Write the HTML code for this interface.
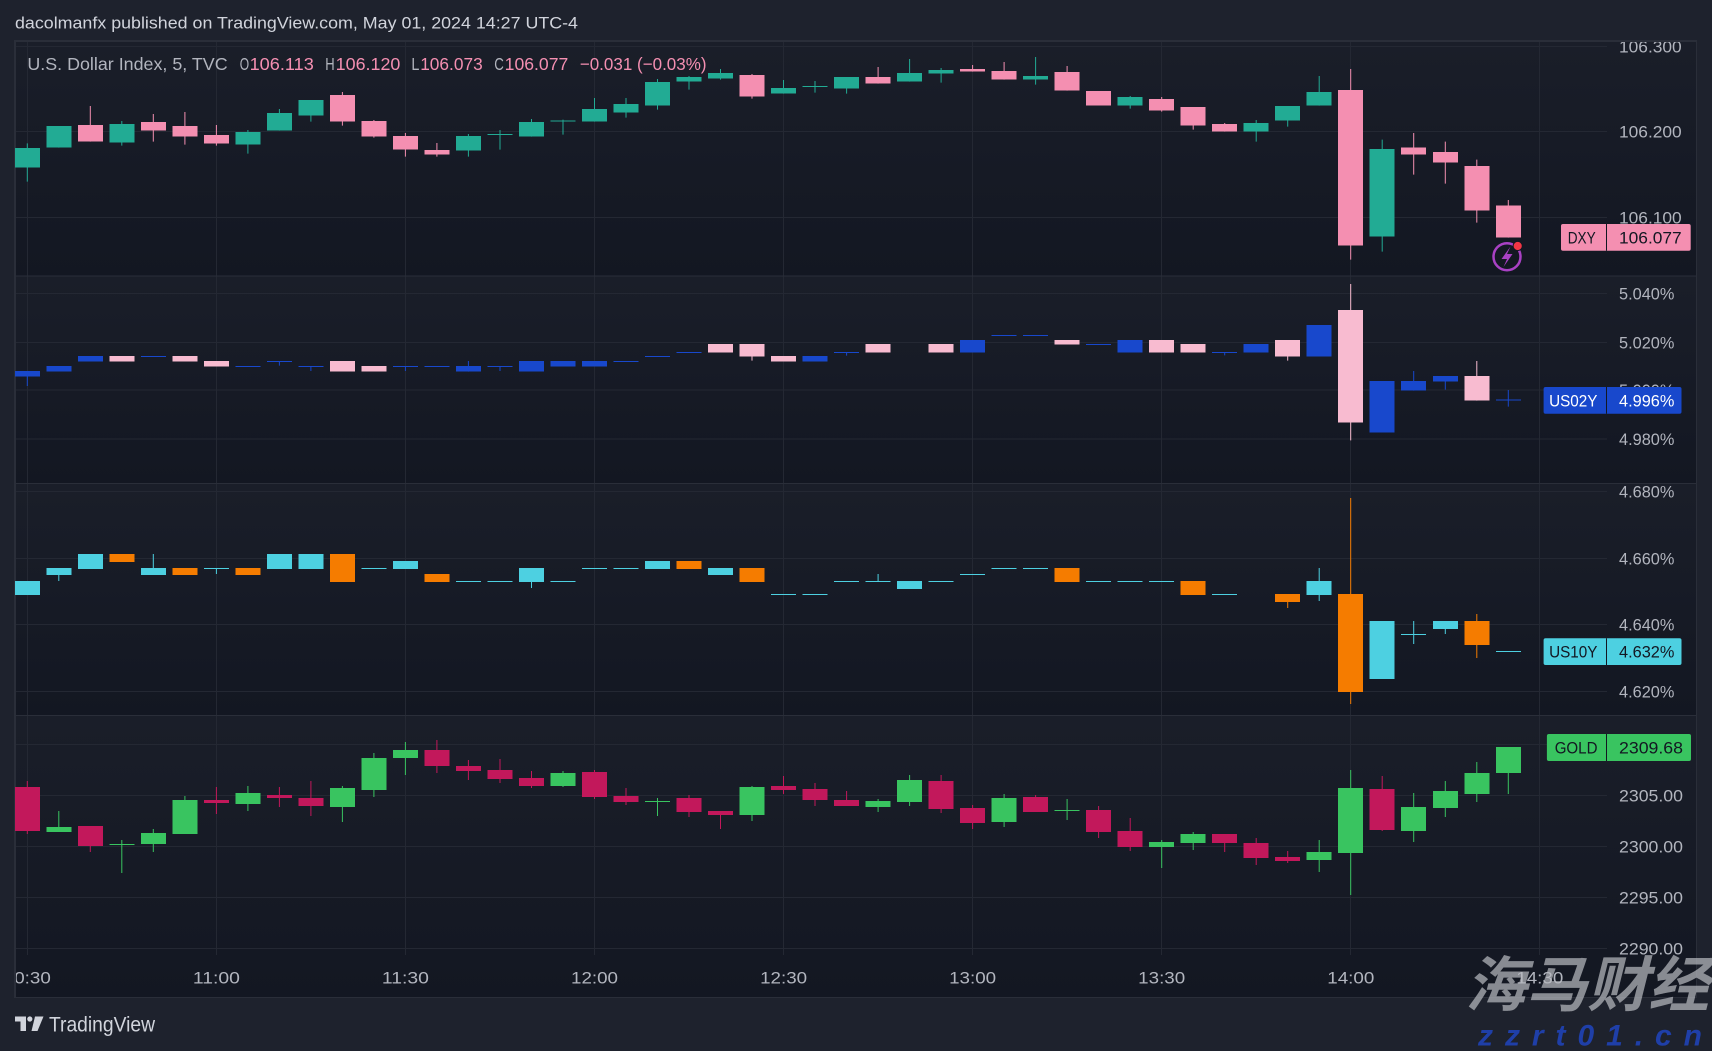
<!DOCTYPE html>
<html><head><meta charset="utf-8"><style>
html,body{margin:0;padding:0;background:#1e222d;}
svg{display:block;}
text{font-family:"Liberation Sans","Noto Sans CJK SC",sans-serif;}
</style></head><body>
<svg width="1712" height="1051" viewBox="0 0 1712 1051" xmlns="http://www.w3.org/2000/svg">
<defs>
<linearGradient id="pg" x1="0" y1="0" x2="0" y2="1"><stop offset="0" stop-color="#1a1e29"/><stop offset="1" stop-color="#131722"/></linearGradient>
<clipPath id="axc"><rect x="1607" y="42" width="90" height="913"/></clipPath>
<clipPath id="tc"><rect x="16" y="955" width="1680" height="42"/></clipPath>
</defs>
<rect width="1712" height="1051" fill="#1e222d"/>
<text x="15" y="28.5" font-size="17" fill="#d1d4dc" textLength="563" lengthAdjust="spacingAndGlyphs">dacolmanfx published on TradingView.com, May 01, 2024 14:27 UTC-4</text>
<rect x="14" y="40" width="1683" height="958" fill="#2a2e39"/>
<rect x="16" y="42" width="1680" height="233.5" fill="url(#pg)"/>
<rect x="16" y="276.5" width="1680" height="206.5" fill="url(#pg)"/>
<rect x="16" y="484" width="1680" height="231" fill="url(#pg)"/>
<rect x="16" y="716" width="1680" height="281" fill="url(#pg)"/>
<g stroke="#242833" stroke-width="1" shape-rendering="crispEdges" fill="none">
<path d="M27.5 42V955M216.5 42V955M405.5 42V955M594.5 42V955M783.5 42V955M972.5 42V955M1161.5 42V955M1350.5 42V955M1539.5 42V955"/>
<path d="M16 46.7H1607M16 131.5H1607M16 217.3H1607M16 293.3H1607M16 342.3H1607M16 390H1607M16 439H1607M16 491.3H1607M16 558.3H1607M16 624.3H1607M16 691.3H1607M16 744.3H1607M16 795.3H1607M16 846.3H1607M16 897.3H1607M16 948.3H1607"/>
</g>
<g shape-rendering="crispEdges">
<rect x="16" y="275.5" width="1680" height="1" fill="#2a2e39"/>
<rect x="16" y="483" width="1680" height="1" fill="#2a2e39"/>
<rect x="16" y="715" width="1680" height="1" fill="#2a2e39"/>
</g>

<!-- legend -->
<g font-size="17.5">
<text x="27.4" y="70" fill="#b2b5be" textLength="200.2" lengthAdjust="spacingAndGlyphs">U.S. Dollar Index, 5, TVC</text>
<text x="239.7" y="70" fill="#b2b5be" textLength="9.4" lengthAdjust="spacingAndGlyphs">O</text><text x="249.6" y="70" fill="#f48fb1" textLength="64.2" lengthAdjust="spacingAndGlyphs">106.113</text>
<text x="325.3" y="70" fill="#b2b5be" textLength="9.4" lengthAdjust="spacingAndGlyphs">H</text><text x="335.7" y="70" fill="#f48fb1" textLength="64.7" lengthAdjust="spacingAndGlyphs">106.120</text>
<text x="411.4" y="70" fill="#b2b5be" textLength="8" lengthAdjust="spacingAndGlyphs">L</text><text x="420.2" y="70" fill="#f48fb1" textLength="62.5" lengthAdjust="spacingAndGlyphs">106.073</text>
<text x="494.2" y="70" fill="#b2b5be" textLength="9.6" lengthAdjust="spacingAndGlyphs">C</text><text x="504.7" y="70" fill="#f48fb1" textLength="63.6" lengthAdjust="spacingAndGlyphs">106.077</text>
<text x="579.8" y="70" fill="#f48fb1" textLength="126.7" lengthAdjust="spacingAndGlyphs">−0.031 (−0.03%)</text>
</g>

<!-- DXY + US02Y candles -->
<g transform="translate(0,40) scale(1,0.333333)" shape-rendering="crispEdges">
<path fill="none" stroke="#22ab94" stroke-width="1" d="M27.3 310V425M58.8 258V323M121.8 243V317M247.9 270V341M279.4 207V272M310.9 180V245M468.4 282V350M500 270V329M531.5 237V290M563 239V284M594.5 174V245M626 174V233M657.5 117V209M689 108V149M720.5 87V119M783.5 120V161M815 123V158M846.6 111V161M909.6 57V125M941.1 84V128M1035.6 51V134M1130.2 168V206M1256.2 240V305M1287.7 198V260M1319.2 108V197M1382.2 299V635"/>
<g fill="#22ab94">
<rect x="14.8" y="324" width="25" height="59"/><rect x="46.3" y="258" width="25" height="65"/><rect x="109.3" y="252" width="25" height="56"/><rect x="235.4" y="276" width="25" height="38"/><rect x="266.9" y="219" width="25" height="53"/><rect x="298.4" y="180" width="25" height="47"/><rect x="455.9" y="288" width="25" height="44"/><rect x="487.5" y="282" width="25" height="3"/><rect x="519" y="246" width="25" height="44"/><rect x="550.5" y="242" width="25" height="3"/><rect x="582" y="207" width="25" height="38"/><rect x="613.5" y="192" width="25" height="26"/><rect x="645" y="126" width="25" height="71"/><rect x="676.5" y="111" width="25" height="14"/><rect x="708" y="99" width="25" height="17"/><rect x="771" y="144" width="25" height="17"/><rect x="802.6" y="138" width="25" height="3"/><rect x="834.1" y="111" width="25" height="35"/><rect x="897.1" y="99" width="25" height="26"/><rect x="928.6" y="90" width="25" height="11"/><rect x="1023.1" y="108" width="25" height="11"/><rect x="1117.7" y="171" width="25" height="26"/><rect x="1243.7" y="249" width="25" height="26"/><rect x="1275.2" y="198" width="25" height="44"/><rect x="1306.7" y="156" width="25" height="41"/><rect x="1369.7" y="327" width="25" height="263"/>
</g>
<path fill="none" stroke="#f48fb1" stroke-width="1" d="M90.3 198V305M153.3 222V305M184.9 216V314M216.4 255V317M342.4 156V257M373.9 240V293M405.4 279V350M436.9 309V350M752 102V176M878.1 81V131M972.6 75V95M1004.1 66V119M1067.1 78V152M1161.7 171V215M1193.2 201V269M1224.7 249V275M1350.7 87V659M1413.7 279V404M1445.3 305V431M1476.8 359V548M1508.3 480V593"/>
<g fill="#f48fb1">
<rect x="77.8" y="255" width="25" height="50"/><rect x="140.8" y="246" width="25" height="26"/><rect x="172.4" y="258" width="25" height="32"/><rect x="203.9" y="285" width="25" height="26"/><rect x="329.9" y="165" width="25" height="80"/><rect x="361.4" y="243" width="25" height="47"/><rect x="392.9" y="288" width="25" height="41"/><rect x="424.4" y="330" width="25" height="14"/><rect x="739.5" y="105" width="25" height="65"/><rect x="865.6" y="111" width="25" height="20"/><rect x="960.1" y="87" width="25" height="8"/><rect x="991.6" y="93" width="25" height="26"/><rect x="1054.6" y="96" width="25" height="56"/><rect x="1086.1" y="153" width="25" height="44"/><rect x="1149.2" y="177" width="25" height="35"/><rect x="1180.7" y="201" width="25" height="56"/><rect x="1212.2" y="252" width="25" height="23"/><rect x="1338.2" y="150" width="25" height="467"/><rect x="1401.2" y="323" width="25" height="21"/><rect x="1432.8" y="336" width="25" height="32"/><rect x="1464.3" y="378" width="25" height="134"/><rect x="1495.8" y="497" width="25" height="96"/>
</g>
<path fill="none" stroke="#1848cc" stroke-width="1" d="M27.3 993V1038M279.4 963V977M310.9 978V993M405.4 978V993M468.4 963V995M500 978V993M846.6 936V947M1224.7 936V946M1413.7 993V1052M1445.3 1008V1049M1508.3 1050V1100"/>
<g fill="#1848cc">
<rect x="14.8" y="993" width="25" height="17"/><rect x="46.3" y="978" width="25" height="17"/><rect x="77.8" y="948" width="25" height="17"/><rect x="140.8" y="948" width="25" height="3"/><rect x="235.4" y="978" width="25" height="3"/><rect x="266.9" y="963" width="25" height="3"/><rect x="298.4" y="978" width="25" height="3"/><rect x="392.9" y="978" width="25" height="3"/><rect x="424.4" y="978" width="25" height="3"/><rect x="455.9" y="978" width="25" height="17"/><rect x="487.5" y="978" width="25" height="3"/><rect x="519" y="963" width="25" height="32"/><rect x="550.5" y="963" width="25" height="17"/><rect x="582" y="963" width="25" height="17"/><rect x="613.5" y="963" width="25" height="3"/><rect x="645" y="948" width="25" height="3"/><rect x="676.5" y="936" width="25" height="3"/><rect x="802.6" y="948" width="25" height="17"/><rect x="834.1" y="936" width="25" height="3"/><rect x="960.1" y="900" width="25" height="38"/><rect x="991.6" y="885" width="25" height="3"/><rect x="1023.1" y="885" width="25" height="3"/><rect x="1086.1" y="912" width="25" height="3"/><rect x="1117.7" y="900" width="25" height="38"/><rect x="1212.2" y="936" width="25" height="3"/><rect x="1243.7" y="912" width="25" height="26"/><rect x="1306.7" y="855" width="25" height="95"/><rect x="1369.7" y="1023" width="25" height="155"/><rect x="1401.2" y="1023" width="25" height="29"/><rect x="1432.8" y="1008" width="25" height="17"/><rect x="1495.8" y="1079" width="25" height="3"/>
</g>
<path fill="none" stroke="#f8bbd0" stroke-width="1" d="M752 912V962M1287.7 900V962M1350.7 732V1201M1476.8 963V1082"/>
<g fill="#f8bbd0">
<rect x="109.3" y="948" width="25" height="17"/><rect x="172.4" y="948" width="25" height="17"/><rect x="203.9" y="963" width="25" height="17"/><rect x="329.9" y="963" width="25" height="32"/><rect x="361.4" y="978" width="25" height="17"/><rect x="708" y="912" width="25" height="26"/><rect x="739.5" y="912" width="25" height="38"/><rect x="771" y="948" width="25" height="17"/><rect x="865.6" y="912" width="25" height="26"/><rect x="928.6" y="912" width="25" height="26"/><rect x="1054.6" y="900" width="25" height="14"/><rect x="1149.2" y="900" width="25" height="38"/><rect x="1180.7" y="912" width="25" height="26"/><rect x="1275.2" y="900" width="25" height="50"/><rect x="1338.2" y="810" width="25" height="338"/><rect x="1464.3" y="1008" width="25" height="74"/>
</g>
</g>

<!-- US10Y + GOLD candles -->
<g transform="translate(0,480) scale(1,0.333333)" shape-rendering="crispEdges">
<path fill="none" stroke="#4dd0e1" stroke-width="1" d="M58.8 264V303M153.3 222V285M216.4 264V282M531.5 264V324M878.1 282V306M1319.2 264V363M1413.7 423V492M1445.3 423V462"/>
<g fill="#4dd0e1">
<rect x="14.8" y="303" width="25" height="42"/><rect x="46.3" y="264" width="25" height="21"/><rect x="77.8" y="222" width="25" height="45"/><rect x="140.8" y="264" width="25" height="21"/><rect x="203.9" y="264" width="25" height="3"/><rect x="266.9" y="222" width="25" height="45"/><rect x="298.4" y="222" width="25" height="45"/><rect x="361.4" y="264" width="25" height="3"/><rect x="392.9" y="243" width="25" height="24"/><rect x="455.9" y="303" width="25" height="3"/><rect x="487.5" y="303" width="25" height="3"/><rect x="519" y="264" width="25" height="42"/><rect x="550.5" y="303" width="25" height="3"/><rect x="582" y="264" width="25" height="3"/><rect x="613.5" y="264" width="25" height="3"/><rect x="645" y="243" width="25" height="24"/><rect x="708" y="264" width="25" height="21"/><rect x="771" y="342" width="25" height="3"/><rect x="802.6" y="342" width="25" height="3"/><rect x="834.1" y="303" width="25" height="3"/><rect x="865.6" y="303" width="25" height="3"/><rect x="897.1" y="303" width="25" height="24"/><rect x="928.6" y="303" width="25" height="3"/><rect x="960.1" y="282" width="25" height="3"/><rect x="991.6" y="264" width="25" height="3"/><rect x="1023.1" y="264" width="25" height="3"/><rect x="1086.1" y="303" width="25" height="3"/><rect x="1117.7" y="303" width="25" height="3"/><rect x="1149.2" y="303" width="25" height="3"/><rect x="1212.2" y="342" width="25" height="3"/><rect x="1306.7" y="303" width="25" height="42"/><rect x="1369.7" y="423" width="25" height="174"/><rect x="1401.2" y="462" width="25" height="3"/><rect x="1432.8" y="423" width="25" height="24"/><rect x="1495.8" y="513" width="25" height="3"/>
</g>
<path fill="none" stroke="#f57c00" stroke-width="1" d="M1287.7 342V384M1350.7 54V672M1476.8 402V534"/>
<g fill="#f57c00">
<rect x="109.3" y="222" width="25" height="24"/><rect x="172.4" y="264" width="25" height="21"/><rect x="235.4" y="264" width="25" height="21"/><rect x="329.9" y="222" width="25" height="84"/><rect x="424.4" y="282" width="25" height="24"/><rect x="676.5" y="243" width="25" height="24"/><rect x="739.5" y="264" width="25" height="42"/><rect x="1054.6" y="264" width="25" height="42"/><rect x="1180.7" y="303" width="25" height="42"/><rect x="1275.2" y="342" width="25" height="24"/><rect x="1338.2" y="342" width="25" height="294"/><rect x="1464.3" y="423" width="25" height="72"/>
</g>
<path fill="none" stroke="#39c460" stroke-width="1" d="M58.8 993V1056M121.8 1080V1179M153.3 1047V1116M184.9 948V1062M247.9 918V993M342.4 918V1026M373.9 819V951M405.4 786V885M563 873V921M657.5 954V1008M752 918V1023M878.1 957V996M909.6 885V978M1004.1 942V1041M1067.1 957V1020M1161.7 1080V1164M1193.2 1056V1110M1319.2 1080V1176M1350.7 870V1245M1413.7 939V1086M1445.3 903V1011M1476.8 846V966M1508.3 801V942"/>
<g fill="#39c460">
<rect x="46.3" y="1041" width="25" height="15"/><rect x="109.3" y="1092" width="25" height="3"/><rect x="140.8" y="1059" width="25" height="33"/><rect x="172.4" y="960" width="25" height="102"/><rect x="235.4" y="939" width="25" height="33"/><rect x="329.9" y="924" width="25" height="57"/><rect x="361.4" y="834" width="25" height="96"/><rect x="392.9" y="810" width="25" height="24"/><rect x="550.5" y="879" width="25" height="39"/><rect x="645" y="963" width="25" height="3"/><rect x="739.5" y="921" width="25" height="84"/><rect x="865.6" y="963" width="25" height="18"/><rect x="897.1" y="900" width="25" height="66"/><rect x="991.6" y="954" width="25" height="72"/><rect x="1054.6" y="990" width="25" height="3"/><rect x="1149.2" y="1086" width="25" height="15"/><rect x="1180.7" y="1062" width="25" height="27"/><rect x="1306.7" y="1116" width="25" height="24"/><rect x="1338.2" y="924" width="25" height="195"/><rect x="1401.2" y="981" width="25" height="72"/><rect x="1432.8" y="933" width="25" height="51"/><rect x="1464.3" y="879" width="25" height="63"/><rect x="1495.8" y="801" width="25" height="78"/>
</g>
<path fill="none" stroke="#c2185b" stroke-width="1" d="M27.3 903V1062M90.3 1038V1116M216.4 921V1002M279.4 921V981M310.9 903V1008M436.9 780V879M468.4 840V900M500 837V909M531.5 873V924M594.5 870V957M626 924V975M689 945V1011M720.5 993V1047M783.5 888V942M815 909V978M846.6 933V978M941.1 885V999M972.6 975V1047M1035.6 945V996M1098.6 978V1074M1130.2 1014V1113M1224.7 1062V1116M1256.2 1074V1155M1287.7 1113V1149M1382.2 888V1053"/>
<g fill="#c2185b">
<rect x="14.8" y="921" width="25" height="132"/><rect x="77.8" y="1038" width="25" height="60"/><rect x="203.9" y="960" width="25" height="9"/><rect x="266.9" y="945" width="25" height="9"/><rect x="298.4" y="954" width="25" height="24"/><rect x="424.4" y="810" width="25" height="48"/><rect x="455.9" y="858" width="25" height="15"/><rect x="487.5" y="870" width="25" height="27"/><rect x="519" y="894" width="25" height="24"/><rect x="582" y="876" width="25" height="75"/><rect x="613.5" y="948" width="25" height="18"/><rect x="676.5" y="954" width="25" height="42"/><rect x="708" y="993" width="25" height="12"/><rect x="771" y="918" width="25" height="12"/><rect x="802.6" y="927" width="25" height="33"/><rect x="834.1" y="960" width="25" height="18"/><rect x="928.6" y="903" width="25" height="84"/><rect x="960.1" y="984" width="25" height="45"/><rect x="1023.1" y="951" width="25" height="45"/><rect x="1086.1" y="990" width="25" height="66"/><rect x="1117.7" y="1053" width="25" height="48"/><rect x="1212.2" y="1062" width="25" height="27"/><rect x="1243.7" y="1089" width="25" height="45"/><rect x="1275.2" y="1131" width="25" height="12"/><rect x="1369.7" y="927" width="25" height="123"/>
</g>
</g>

<!-- price axis labels -->
<g clip-path="url(#axc)" font-size="17" fill="#b2b5be">
<text x="1619" y="52.7" textLength="62.7" lengthAdjust="spacingAndGlyphs">106.300</text>
<text x="1619" y="137.5" textLength="62.7" lengthAdjust="spacingAndGlyphs">106.200</text>
<text x="1619" y="223.3" textLength="62.7" lengthAdjust="spacingAndGlyphs">106.100</text>
<text x="1619" y="299.3" textLength="55.4" lengthAdjust="spacingAndGlyphs">5.040%</text>
<text x="1619" y="348.3" textLength="55.4" lengthAdjust="spacingAndGlyphs">5.020%</text>
<text x="1619" y="396" textLength="55.4" lengthAdjust="spacingAndGlyphs">5.000%</text>
<text x="1619" y="445" textLength="55.4" lengthAdjust="spacingAndGlyphs">4.980%</text>
<text x="1619" y="497.3" textLength="55.4" lengthAdjust="spacingAndGlyphs">4.680%</text>
<text x="1619" y="564.3" textLength="55.4" lengthAdjust="spacingAndGlyphs">4.660%</text>
<text x="1619" y="630.3" textLength="55.4" lengthAdjust="spacingAndGlyphs">4.640%</text>
<text x="1619" y="697.3" textLength="55.4" lengthAdjust="spacingAndGlyphs">4.620%</text>
<text x="1619" y="750.3" textLength="64" lengthAdjust="spacingAndGlyphs">2310.00</text>
<text x="1619" y="801.3" textLength="64" lengthAdjust="spacingAndGlyphs">2305.00</text>
<text x="1619" y="852.3" textLength="64" lengthAdjust="spacingAndGlyphs">2300.00</text>
<text x="1619" y="903.3" textLength="64" lengthAdjust="spacingAndGlyphs">2295.00</text>
</g>
<text x="1619" y="954.3" font-size="17" fill="#b2b5be" textLength="64" lengthAdjust="spacingAndGlyphs">2290.00</text>

<!-- last value labels -->
<g font-size="17">
<rect x="1561" y="224" width="129.7" height="26.7" rx="2" fill="#f48fb1"/>
<rect x="1606" y="224" width="1" height="26.7" fill="#131722"/>
<text x="1581.7" y="243.5" text-anchor="middle" fill="#131722" textLength="28" lengthAdjust="spacingAndGlyphs">DXY</text>
<text x="1619" y="243.5" fill="#131722" textLength="62.7" lengthAdjust="spacingAndGlyphs">106.077</text>

<rect x="1543.6" y="387" width="137.9" height="26.7" rx="2" fill="#1848cc"/>
<rect x="1606" y="387" width="1" height="26.7" fill="#131722"/>
<text x="1573.3" y="406.4" text-anchor="middle" fill="#ffffff" textLength="48.4" lengthAdjust="spacingAndGlyphs">US02Y</text>
<text x="1619" y="406.4" fill="#ffffff" textLength="55.4" lengthAdjust="spacingAndGlyphs">4.996%</text>

<rect x="1543.6" y="638.3" width="137.9" height="26.7" rx="2" fill="#4dd0e1"/>
<rect x="1606" y="638.3" width="1" height="26.7" fill="#131722"/>
<text x="1573.3" y="657.7" text-anchor="middle" fill="#131722" textLength="48.4" lengthAdjust="spacingAndGlyphs">US10Y</text>
<text x="1619" y="657.7" fill="#131722" textLength="55.4" lengthAdjust="spacingAndGlyphs">4.632%</text>

<rect x="1546.9" y="734" width="144.1" height="27" rx="2" fill="#39c460"/>
<rect x="1606" y="734" width="1" height="27" fill="#131722"/>
<text x="1576.1" y="753.5" text-anchor="middle" fill="#131722" textLength="42.8" lengthAdjust="spacingAndGlyphs">GOLD</text>
<text x="1619" y="753.5" fill="#131722" textLength="64" lengthAdjust="spacingAndGlyphs">2309.68</text>
</g>

<!-- lightning icon -->
<circle cx="1507" cy="256.7" r="13.5" fill="none" stroke="#a941c4" stroke-width="2.5"/>
<path d="M1510.5 246.5 L1501.5 259 L1507 259 L1503.5 267 L1512.5 254 L1507 254 Z" fill="#a941c4"/>
<circle cx="1517.7" cy="246" r="4.6" fill="#f23645" stroke="#131722" stroke-width="1"/>

<!-- time axis -->
<g clip-path="url(#tc)" font-size="17" fill="#b2b5be" text-anchor="middle">
<text x="27.3" y="983.3" textLength="47" lengthAdjust="spacingAndGlyphs">10:30</text>
<text x="216.4" y="983.3" textLength="47" lengthAdjust="spacingAndGlyphs">11:00</text>
<text x="405.4" y="983.3" textLength="47" lengthAdjust="spacingAndGlyphs">11:30</text>
<text x="594.5" y="983.3" textLength="47" lengthAdjust="spacingAndGlyphs">12:00</text>
<text x="783.6" y="983.3" textLength="47" lengthAdjust="spacingAndGlyphs">12:30</text>
<text x="972.6" y="983.3" textLength="47" lengthAdjust="spacingAndGlyphs">13:00</text>
<text x="1161.7" y="983.3" textLength="47" lengthAdjust="spacingAndGlyphs">13:30</text>
<text x="1350.8" y="983.3" textLength="47" lengthAdjust="spacingAndGlyphs">14:00</text>
<text x="1539.8" y="983.3" textLength="47" lengthAdjust="spacingAndGlyphs">14:30</text>
</g>

<!-- TradingView logo -->
<g fill="#d1d4dc">
<rect x="15" y="1016.5" width="11" height="5"/>
<rect x="20.5" y="1016.5" width="5.5" height="14.5"/>
<circle cx="29.8" cy="1019" r="2.6"/>
<polygon points="35,1016.5 43.5,1016.5 37.5,1031 31.5,1031"/>
<text x="49" y="1031.5" font-size="21" textLength="106" lengthAdjust="spacingAndGlyphs">TradingView</text>
</g>

<!-- watermark -->
<g font-weight="bold">
<text x="1465" y="1006" font-size="60" fill="#b6b8be" fill-opacity="0.72" transform="skewX(-14) translate(251,0)" style="font-family:'Noto Sans CJK SC','WenQuanYi Zen Hei',sans-serif;" textLength="244" lengthAdjust="spacingAndGlyphs">海马财经</text>
<text x="1478" y="1045.5" font-size="30" fill="#1f3fa8" font-style="italic" textLength="224" lengthAdjust="spacing">zzrt01.cn</text>
</g>
</svg>
</body></html>
